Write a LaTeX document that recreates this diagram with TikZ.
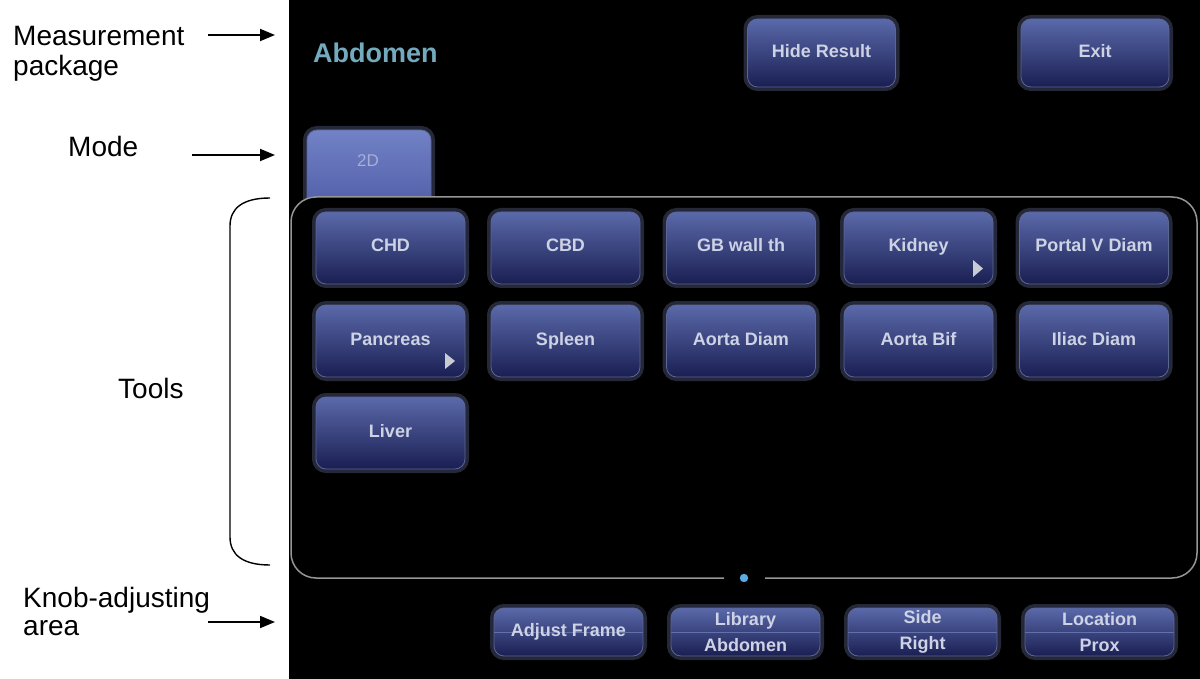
\documentclass[tikz,border=0pt]{standalone}
\usepackage{fontspec}
\setmainfont{Liberation Sans}
\usetikzlibrary{arrows.meta}
\definecolor{btntop}{RGB}{90,105,170}
\definecolor{btnbot}{RGB}{26,31,82}
\definecolor{btnline}{RGB}{92,102,148}
\definecolor{btnring}{RGB}{36,40,56}
\definecolor{btntext}{RGB}{205,210,228}
\definecolor{modetop}{RGB}{114,130,198}
\definecolor{modebot}{RGB}{80,94,168}
\definecolor{modetext}{RGB}{165,175,215}
\definecolor{titlecol}{RGB}{115,170,190}
\definecolor{panelline}{RGB}{150,150,150}
\definecolor{dotcol}{RGB}{90,170,230}
\definecolor{divcol}{RGB}{100,112,172}
\definecolor{tricol}{RGB}{200,202,212}
\begin{document}
\begin{tikzpicture}[x=1pt,y=-1pt,
  btn/.style={rounded corners=10pt, minimum width=149pt, minimum height=72pt,
    inner sep=0pt, top color=btntop, bottom color=btnbot, draw=btnline,
    line width=0.8pt, preaction={draw=btnring, line width=8pt},
    text=btntext, font=\bfseries\fontsize{18}{26}\selectfont, align=center},
  toolbtn/.style={btn, text height=13pt, text depth=5pt},
  topbtn/.style={btn, minimum width=148pt, minimum height=68pt, text height=13pt, text depth=4pt},
  knobbtn/.style={btn, minimum height=48pt,
    path picture={\draw[divcol, line width=1pt] (path picture bounding box.west) -- (path picture bounding box.east);}},
  modebtn/.style={btn, top color=modetop, bottom color=modebot, minimum width=124pt, minimum height=78pt},
  modetxt/.style={text=modetext, font=\fontsize{17}{20}\selectfont, inner sep=0pt},
  annot/.style={anchor=base west, inner sep=0pt, font=\fontsize{28}{30}\selectfont},
  annarrow/.style={-{Triangle[length=15pt,width=12pt]}, line width=1.8pt},
  panel/.style={draw=panelline, line width=1.5pt, rounded corners=25pt},
  tri/.style={fill=tricol}
]
\useasboundingbox (0,0) rectangle (1200,679);
\fill[white] (0,0) rectangle (1200,679);
% screen
\fill[black] (289,0) rectangle (1200,679);

% annotations
\node[annot] (meas1) at (13,46) {Measurement};
\node[annot] (meas2) at (13,76) {package};
\coordinate (measS) at (208,35); \coordinate (measE) at (275,35);
\draw[annarrow] (measS) -- (measE);
\node[annot] (model) at (68,157) {Mode};
\coordinate (modeS) at (192,155); \coordinate (modeE) at (275,155);
\draw[annarrow] (modeS) -- (modeE);
\node[annot] (toolsl) at (118,398) {Tools};
\draw[line width=1.4pt] (270,198) .. controls (243,198) and (230,208) .. (230,226) -- (230,537) .. controls (230,555) and (243,565) .. (270,565);
\node[annot] (knob1) at (23,607) {Knob-adjusting};
\node[annot] (knob2) at (23,635) {area};
\coordinate (knobS) at (208,622); \coordinate (knobE) at (275,622);
\draw[annarrow] (knobS) -- (knobE);

% title and top buttons
\node[anchor=base west, inner sep=0pt, text=titlecol, font=\bfseries\fontsize{27}{30}\selectfont] (title) at (313,63) {Abdomen};
\node[topbtn] (hide) at (821.5,53) {Hide Result};
\node[topbtn] (exit) at (1095,53) {Exit};

% mode tab
\node[modebtn] (mode) at (369,169) {};
\node[modetxt] (mode2d) at (368,161) {2D};

% tools panel
\fill[black, rounded corners=25pt] (291,197) rectangle (1197,578);
\draw[panel] (724,578) -- (291,578) -- (291,197) -- (1197,197) -- (1197,578) -- (765,578);
\fill[dotcol] (744,578) circle (4.2pt);

% tool buttons
\node[toolbtn] (chd) at (390.5,248) {CHD};
\node[toolbtn] (cbd) at (565.5,248) {CBD};
\node[toolbtn] (gb) at (741,248) {GB wall th};
\node[toolbtn] (kidney) at (918.5,248) {Kidney};
\node[toolbtn] (portal) at (1094,248) {Portal V Diam};
\node[toolbtn] (pancreas) at (390.5,341) {Pancreas};
\node[toolbtn] (spleen) at (565.5,341) {Spleen};
\node[toolbtn] (aortad) at (741,341) {Aorta Diam};
\node[toolbtn] (aortab) at (918.5,341) {Aorta Bif};
\node[toolbtn] (iliac) at (1094,341) {Iliac Diam};
\node[toolbtn] (liver) at (390.5,433) {Liver};
\fill[tri] (973,260) -- (983,268.5) -- (973,277) -- cycle;
\fill[tri] (445,353) -- (455,361) -- (445,369) -- cycle;

% knob area
\node[knobbtn] (adj) at (568.5,632) {Adjust Frame};
\node[knobbtn] (lib) at (745.5,632) {Library\\Abdomen};
\node[knobbtn] (side) at (922.5,632) {Side\\Right};
\node[knobbtn] (loc) at (1099.5,632) {Location\\Prox};
\end{tikzpicture}
\end{document}
